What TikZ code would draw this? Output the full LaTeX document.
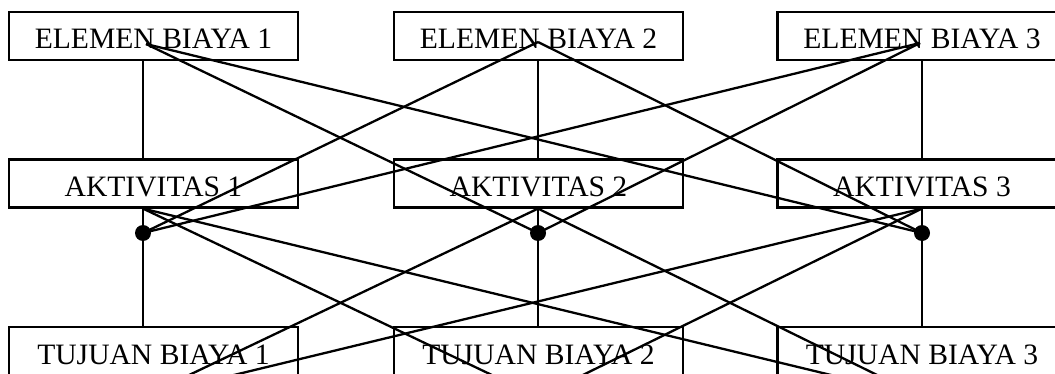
\documentclass[tikz,border=0pt]{standalone}
\usepackage{fontspec}
\setmainfont{Liberation Serif}
\usepackage{tikz}
\tikzstyle{diagram} = [x = .5pt, y = -.5pt]
\tikzstyle{boxStyle} = [draw, line width = 1.1pt, minimum width = 144.5pt, minimum height = 24pt, inner sep = 0, text height = 18.5pt, text depth = 5.5pt, font = \fontsize{14.8}{17}\selectfont]
\tikzstyle{linkLine} = [line width = 1.15pt]
\tikzstyle{dotStyle} = [circle, fill = black, inner sep = 0, minimum size = 8pt]
\newcommand{\rowTop}{36}
\newcommand{\rowMiddle}{183.5}
\newcommand{\rowBottom}{351}

\begin{document}
\begin{tikzpicture}[diagram]
              \useasboundingbox (0,0) rectangle (1055,374);
              \clip (0,0) rectangle (1055,374);

              % the three rows of boxes
              \foreach \col/\xPos in {1/153.5, 2/538.5, 3/922} {
                \node [boxStyle] (elemen\col) at (\xPos, \rowTop) {ELEMEN BIAYA \col};
                \node [boxStyle] (aktivitas\col) at (\xPos, \rowMiddle) {AKTIVITAS \col};
                \node [boxStyle] (tujuan\col) at (\xPos, \rowBottom) {TUJUAN BIAYA \col};
              }

              % column axes, ends of the crossing lines
              \foreach \col/\xPos/\apexX/\apexY in {1/143/146/44, 2/538/538/42, 3/922/920/43} {
                \coordinate (top\col) at (\apexX, \apexY);
                \node [dotStyle] (dot\col) at (\xPos, 233) {};
                \coordinate (junction\col) at (aktivitas\col.south -| dot\col);
                \coordinate (bottom\col) at (\xPos, 397);
                \draw [linkLine] (elemen\col.south -| dot\col) -- (aktivitas\col.north -| dot\col);
                \draw [linkLine] (junction\col) -- (tujuan\col.north -| dot\col);
              }

              \foreach \from in {1,2,3} {
                \foreach \to in {1,2,3} {
                  \ifnum \from = \to
                  \else
                    \draw [linkLine] (top\from) -- (dot\to.center);
                    \draw [linkLine] (junction\from) -- (bottom\to);
                  \fi
                }
              }
            \end{tikzpicture}
\end{document}
